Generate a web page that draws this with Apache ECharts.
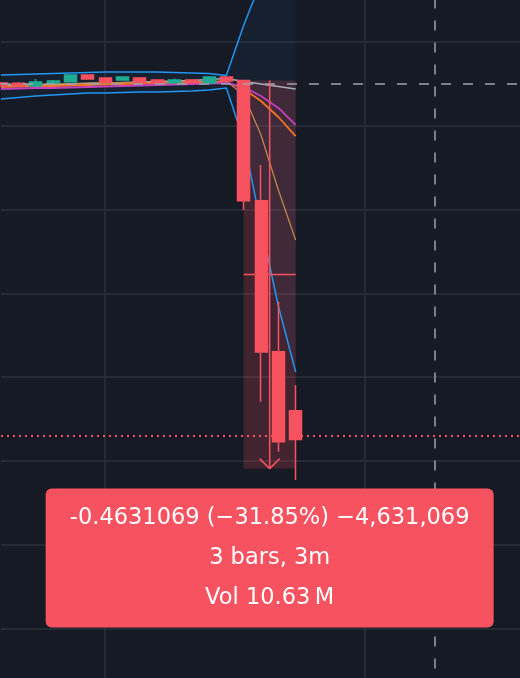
<!DOCTYPE html>
<html><head><meta charset="utf-8">
<script src="https://cdn.jsdelivr.net/npm/echarts@6/dist/echarts.min.js"></script>
<style>html,body{margin:0;padding:0;background:#161a25;overflow:hidden}#c{width:520px;height:678px}</style>
</head><body><div id="c"></div><script>
const times = ['10:09','10:10','10:11','10:12','10:13','10:14','10:15','10:16','10:17','10:18','10:19','10:20','10:21','10:22','10:23','10:24','10:25','10:26','10:27','10:28','10:29','10:30','10:31','10:32','10:33','10:34','10:35','10:36','10:37','10:38','10:39'];
const open  = [1.4511,1.4509,1.4475,1.4511,1.4526,1.4606,1.4570,1.4547,1.4570,1.4547,1.4511,1.4547,1.4511,1.4582,1.4540,1.3106,1.1304,1.0600];
const close = [1.4475,1.4480,1.4523,1.4535,1.4606,1.4559,1.4523,1.4582,1.4511,1.4511,1.4547,1.4515,1.4582,1.4535,1.3106,1.1301,1.0230,1.0258];
const low   = [1.4463,1.4470,1.4463,1.4499,1.4518,1.4551,1.4515,1.4540,1.4503,1.4500,1.4505,1.4505,1.4505,1.4528,1.2995,1.0708,1.0111,0.9773];
const high  = [1.4523,1.4521,1.4559,1.4547,1.4612,1.4615,1.4580,1.4590,1.4580,1.4555,1.4565,1.4555,1.4590,1.4592,1.4548,1.3532,1.1901,1.0907];
const bbUpper = [1.4606,1.4612,1.4618,1.4624,1.4630,1.4636,1.4642,1.4642,1.4642,1.4642,1.4636,1.4630,1.4624,1.4600,1.5200,1.5716,1.6350,1.7050];
const bbLower = [1.4320,1.4338,1.4356,1.4368,1.4380,1.4391,1.4391,1.4397,1.4403,1.4403,1.4409,1.4415,1.4427,1.4451,1.3831,1.2816,1.1850,1.1062];
const bbBasis = [1.4475,1.4481,1.4487,1.4493,1.4499,1.4505,1.4511,1.4517,1.4523,1.4529,1.4535,1.4541,1.4553,1.4565,1.4529,1.4499,1.4469,1.4439];
const maFast = [1.4487,1.4493,1.4499,1.4499,1.4505,1.4511,1.4517,1.4517,1.4517,1.4517,1.4523,1.4523,1.4529,1.4535,1.4368,1.3890,1.3234,1.2637];
const maMid  = [1.4463,1.4469,1.4475,1.4475,1.4481,1.4487,1.4493,1.4499,1.4505,1.4505,1.4511,1.4511,1.4517,1.4523,1.4439,1.4296,1.4105,1.3878];
const maSlow = [1.4439,1.4445,1.4451,1.4451,1.4457,1.4463,1.4469,1.4475,1.4481,1.4487,1.4493,1.4499,1.4505,1.4511,1.4463,1.4356,1.4213,1.4010];
const measureFrom = '10:23', measureTo = '10:26';
const measureStart = 1.45403, measureEnd = 0.99092;
const measureLines = ['-0.4631069 (\u221231.85%) \u22124,631,069', '3 bars, 3m', 'Vol 10.63\u2009M'];
const crossTime = '10:34', crossPrice = 1.4451;

const RED = '#f7525f', GREEN = '#22ab94';
const iFrom = times.indexOf(measureFrom), iTo = times.indexOf(measureTo);
const iMid = (iFrom + iTo) / 2;
const midPrice = (measureStart + measureEnd) / 2;
const lastPrice = close[close.length - 1];
const arrowDx = 0.58, arrowDy = 0.0119;

const chart = echarts.init(document.getElementById('c'), null, {renderer: 'canvas'});
const lineS = (data, color, width, z) => ({type: 'line', data, symbol: 'none', silent: true, z: z || 2,
  lineStyle: {color, width}, itemStyle: {color}});
chart.setOption({
  animation: false,
  backgroundColor: '#161a25',
  grid: {left: 1, top: -41.8, width: 520, height: 754.2, containLabel: false, outerBoundsMode: 'none'},
  xAxis: [
    {type: 'category', data: times, boundaryGap: false,
     axisLine: {show: false}, axisTick: {show: false}, axisLabel: {show: false},
     splitLine: {show: true, interval: (idx, val) => parseInt(val.split(':')[1], 10) % 15 === 0,
       lineStyle: {color: '#2c303b', width: 1.5}}},
    {type: 'value', min: 0, max: times.length - 1, show: false, splitLine: {show: false}}
  ],
  yAxis: {type: 'value', min: 0.7, max: 1.6, interval: 0.1,
    axisLine: {show: false}, axisTick: {show: false}, axisLabel: {show: false},
    splitLine: {show: true, lineStyle: {color: '#2c303b', width: 1.5}}},
  series: [
    {type: 'line', data: bbLower, stack: 'bb', symbol: 'none', silent: true, z: 1, lineStyle: {opacity: 0}},
    {type: 'line', data: bbUpper.map((u, i) => u - bbLower[i]), stack: 'bb', symbol: 'none', silent: true, z: 1,
     lineStyle: {opacity: 0}, areaStyle: {color: 'rgba(33,150,243,0.07)'}},
    lineS(bbUpper, '#2196f3', 1.5),
    lineS(bbLower, '#2196f3', 1.5),
    lineS(bbBasis, '#a9acb5', 1.5),
    lineS(maFast, '#c98a4b', 1.2),
    lineS(maMid, '#f57322', 1.8),
    lineS(maSlow, '#c341c0', 1.8),
    {type: 'candlestick', z: 3, barWidth: 12.5, silent: true,
     data: open.map((o, i) => [o, close[i], low[i], high[i]]),
     itemStyle: {color: GREEN, color0: RED, borderColor: GREEN, borderColor0: RED, borderWidth: 1.5}},
    {type: 'line', xAxisIndex: 1, z: 4, symbol: 'none', silent: true,
     data: [[iFrom, midPrice], [iTo, midPrice]], lineStyle: {color: RED, width: 1.5},
     markLine: {silent: true, symbol: ['none', 'none'], label: {show: false},
       data: [
         {xAxis: times.indexOf(crossTime), lineStyle: {color: '#a0a3ab', width: 1.5, type: [10, 12]}},
         {yAxis: crossPrice, lineStyle: {color: '#a0a3ab', width: 1.5, type: [10, 12]}},
         {yAxis: lastPrice, lineStyle: {color: RED, width: 2, type: [2, 4]}}
       ]}},
    {type: 'line', xAxisIndex: 1, z: 5, symbol: 'none', silent: true,
     data: [[iMid - arrowDx, measureEnd + arrowDy], [iMid, measureEnd], [iMid + arrowDx, measureEnd + arrowDy]],
     lineStyle: {color: RED, width: 1.5}},
    {type: 'line', xAxisIndex: 1, z: 6, symbol: 'none', silent: true,
     data: [[iMid, measureStart], [iMid, measureEnd]], lineStyle: {color: RED, width: 1.5},
     markArea: {silent: true, itemStyle: {color: 'rgba(247,82,95,0.2)'},
       data: [[{coord: [iFrom, measureStart]}, {coord: [iTo, measureEnd]}]]},
     markPoint: {silent: true, symbol: 'circle', symbolSize: 0,
       data: [{coord: [iMid, measureEnd]}],
       label: {show: true, position: 'bottom', distance: 20, formatter: () => measureLines.join('\n'),
         backgroundColor: RED, borderRadius: 6, padding: [9.5, 0], width: 448, align: 'center',
         lineHeight: 40, fontSize: 22.5, color: '#ffffff', fontFamily: '"DejaVu Sans", sans-serif'}}}
  ]
});
</script></body></html>
